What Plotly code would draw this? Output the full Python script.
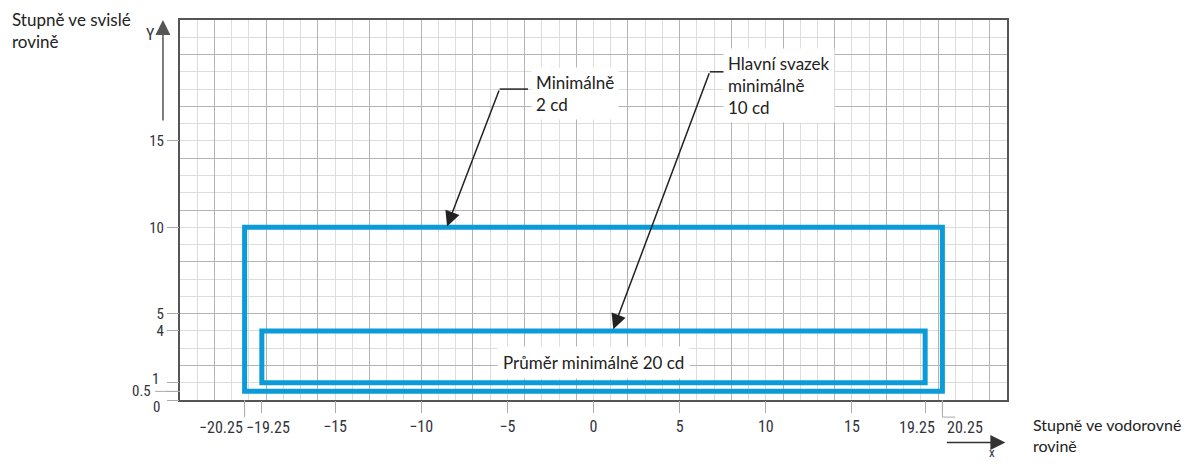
import plotly.graph_objects as go

# rectangles (degrees)
outer_x = [-20.25, 20.25]
outer_y = [0.5, 10]
inner_x = [-19.25, 19.25]
inner_y = [1, 4]

# axis ticks
x_ticks = [-20.25, -19.25, -15, -10, -5, 0, 5, 10, 15, 19.25, 20.25]
x_text = ["", "", "\u221215", "\u221210", "\u22125", "0", "5", "10", "15", "", ""]
y_ticks = [0, 0.5, 1, 4, 5, 10, 15]
y_text = ["", "", "", "4", "5", "10", "15"]

x_range = [-24, 24]
y_range = [0, 22]

BLUE = "#0a9bd8"
NARROW = "Liberation Sans Narrow, Roboto Condensed, DejaVu Sans Condensed, Arial Narrow, Liberation Sans"
TICKFONT = dict(family=NARROW, size=16, color="#33333d")
YFONT = dict(family=NARROW, size=15, color="#33333d")
TXTFONT = dict(family="Lato, Open Sans, Noto Sans", size=17, color="#222222")


def box(xs, ys):
    x0, x1 = xs
    y0, y1 = ys
    return [x0, x1, x1, x0, x0, x1], [y0, y0, y1, y1, y0, y0]


fig = go.Figure()
for xs, ys in [(outer_x, outer_y), (inner_x, inner_y)]:
    bx, by = box(xs, ys)
    fig.add_trace(go.Scatter(x=bx, y=by, mode="lines", line=dict(color=BLUE, width=5),
                             hoverinfo="skip", showlegend=False))
# carrier for the label axes
fig.add_trace(go.Scatter(x=[0], y=[0], xaxis="x2", yaxis="y2", mode="markers",
                         marker=dict(opacity=0), hoverinfo="skip", showlegend=False))

annotations = []

# crowded x labels
for val, txt, anchor, shift in [(-20.25, "\u221220.25", "right", 0), (-19.25, "\u221219.25", "center", 6),
                                (19.25, "19.25", "center", -8), (20.25, "20.25", "left", 3)]:
    annotations.append(dict(x=val, xref="x", y=0, yref="paper", yanchor="top", xanchor=anchor,
                            xshift=shift, yshift=-16, text=txt, showarrow=False, font=TICKFONT))
# crowded y labels
for val, txt, xs, ys in [(1, "1", -19, 4), (0.5, "0.5", -27, 0), (0, "0", -18, -7)]:
    annotations.append(dict(x=0, xref="paper", y=val, yref="y", xanchor="right", yanchor="middle",
                            xshift=xs, yshift=ys, text=txt, showarrow=False, font=YFONT))

# callouts
annotations += [
    dict(x=-3.6, y=19.3, xref="x", yref="y", xanchor="left", yanchor="top", align="left",
         text="Minimálně<br>2 cd", showarrow=False, bgcolor="white", borderpad=4, font=TXTFONT),
    dict(x=-8.5, y=10.05, xref="x", yref="y", ax=-5.45, ay=18, axref="x", ayref="y",
         text="", showarrow=True, arrowhead=2, arrowsize=2, arrowwidth=1.5, arrowcolor="#222222"),
    dict(x=7.5, y=20.4, xref="x", yref="y", xanchor="left", yanchor="top", align="left",
         text="Hlavní svazek<br>minimálně<br>10 cd", showarrow=False, bgcolor="white", borderpad=4,
         font=TXTFONT),
    dict(x=1.15, y=4.1, xref="x", yref="y", ax=6.75, ay=19, axref="x", ayref="y",
         text="", showarrow=True, arrowhead=2, arrowsize=2, arrowwidth=1.5, arrowcolor="#222222"),
    dict(x=0, y=2.15, xref="x", yref="y", text="Průměr minimálně 20 cd", showarrow=False,
         bgcolor="white", borderpad=5, font=TXTFONT),
    # axis titles
    dict(x=-0.205, y=1.035, xref="paper", yref="paper", xanchor="left", yanchor="top", align="left",
         text="Stupně ve svislé<br>rovině", showarrow=False, font=TXTFONT),
    dict(x=1.029, y=-0.035, xref="paper", yref="paper", xanchor="left", yanchor="top", align="left",
         text="Stupně ve vodorovné<br>rovině", showarrow=False,
         font=dict(TXTFONT, size=16)),
    # axis arrows
    dict(x=-0.0206, y=1.0, xref="paper", yref="paper", ax=0, ay=102, text="", showarrow=True,
         arrowhead=2, arrowsize=2, arrowwidth=1.5, arrowcolor="#555555"),
    dict(x=-0.036, y=0.962, xref="paper", yref="paper", xanchor="center", yanchor="middle",
         text="Y", showarrow=False, font=TICKFONT),
    dict(x=0.998, y=-0.112, xref="paper", yref="paper", ax=-60, ay=0, text="", showarrow=True,
         arrowhead=2, arrowsize=2, arrowwidth=1.5, arrowcolor="#333333"),
    dict(x=0.982, y=-0.138, xref="paper", yref="paper", xanchor="center", yanchor="middle", text="x",
         showarrow=False, font=dict(YFONT, size=13)),
]

shapes = [
    # elbow segments of the callout leaders
    dict(type="line", xref="x", yref="y", x0=-5.45, x1=-3.8, y0=18, y1=18,
         line=dict(color="#222222", width=1.5)),
    dict(type="line", xref="x", yref="y", x0=6.75, x1=8.1, y0=19, y1=19,
         line=dict(color="#222222", width=1.5)),
    # long ticks
    dict(type="line", xref="x", yref="paper", x0=-20.25, x1=-20.25, y0=0, y1=-0.045,
         line=dict(color="#aaaaaa", width=1)),
    dict(type="line", xref="x", yref="paper", x0=20.25, x1=20.25, y0=0, y1=-0.045,
         line=dict(color="#aaaaaa", width=1)),
    dict(type="line", xref="x", yref="paper", x0=20.25, x1=21.0, y0=-0.045, y1=-0.045,
         line=dict(color="#aaaaaa", width=1)),
    dict(type="line", xref="paper", yref="y", x0=-0.03, x1=0, y0=0.5, y1=0.5,
         line=dict(color="#aaaaaa", width=1)),
]

# the page body adds an 8px offset, so margins are trimmed to land the plot where the reference has it
fig.update_layout(
    width=1194, height=464,
    margin=dict(l=172, r=195, t=10, b=72),
    paper_bgcolor="white", plot_bgcolor="white",
    showlegend=False,
    xaxis=dict(range=x_range, tickmode="linear", tick0=-1, dtick=3, showticklabels=False, ticks="",
               showgrid=True, gridcolor="#b4b4b4", gridwidth=1, zeroline=False,
               showline=True, linecolor="#555555", linewidth=2, mirror=True,
               minor=dict(tickmode="linear", tick0=0, dtick=1, showgrid=True, gridcolor="#dcdcdc",
                          gridwidth=1, ticks="")),
    yaxis=dict(range=y_range, tickmode="linear", tick0=2, dtick=3, showticklabels=False, ticks="",
               showgrid=True, gridcolor="#b4b4b4", gridwidth=1, zeroline=False,
               showline=True, linecolor="#555555", linewidth=2, mirror=True,
               minor=dict(tickmode="linear", tick0=0, dtick=1, showgrid=True, gridcolor="#dcdcdc",
                          gridwidth=1, ticks="")),
    xaxis2=dict(range=x_range, overlaying="x", anchor="y2", side="bottom", tickmode="array",
                tickvals=x_ticks, ticktext=x_text, ticks="outside", ticklen=12, tickcolor="#aaaaaa",
                tickwidth=1, tickangle=0, showgrid=False, zeroline=False, showline=False,
                tickfont=TICKFONT),
    yaxis2=dict(range=y_range, overlaying="y", anchor="x2", side="left", tickmode="array",
                tickvals=y_ticks, ticktext=y_text, ticks="outside", ticklen=12, tickcolor="#aaaaaa",
                tickwidth=1, showgrid=False, zeroline=False, showline=False, tickfont=YFONT),
    annotations=annotations,
    shapes=shapes,
)

fig.write_html("out.html")
